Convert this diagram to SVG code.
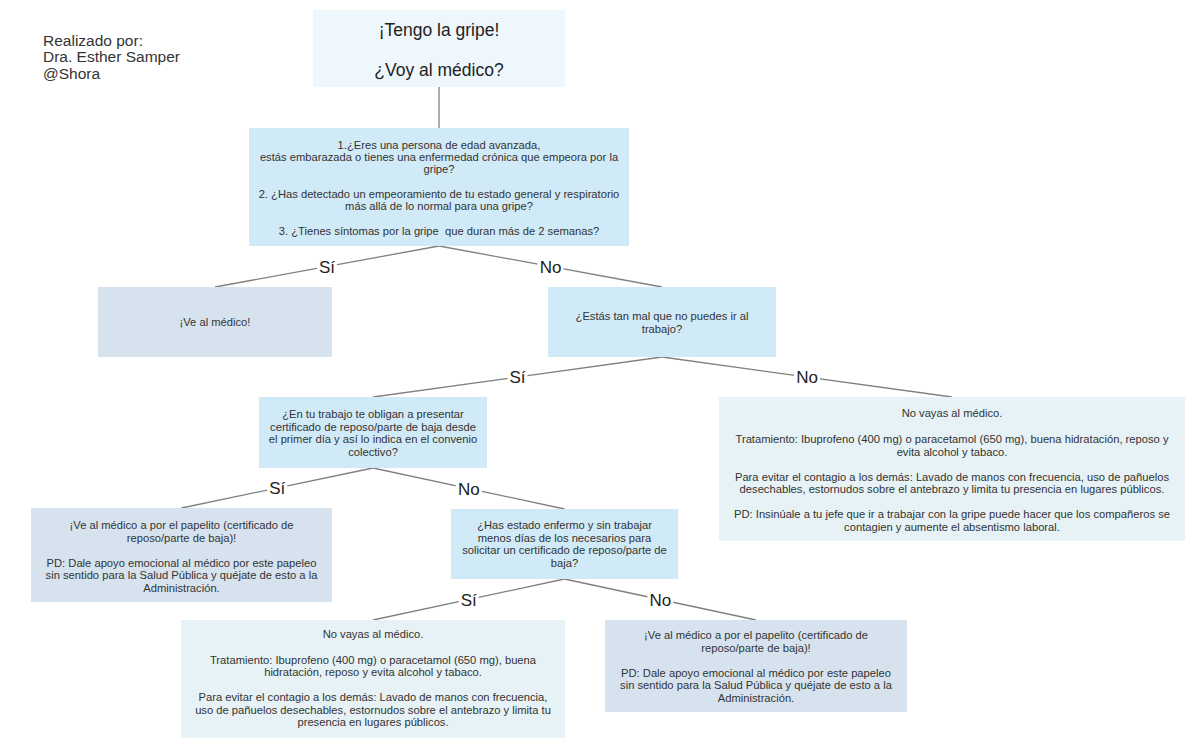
<svg xmlns="http://www.w3.org/2000/svg" width="1200" height="756" viewBox="0 0 1200 756">
<style>
  text { font-family: "Liberation Sans", Arial, sans-serif; fill: #333333; }
  .t { font-size: 11.2px; text-anchor: middle; }
  .title { font-size: 17.5px; text-anchor: middle; fill: #222222; }
  .author { font-size: 15.5px; fill: #333333; }
  .lbl { font-size: 17px; text-anchor: middle; fill: #222222; }
  .c { stroke: #808080; stroke-width: 1.3; fill: none; }
  .gap { fill: #ffffff; }
  .pale { fill: #eef7fb; }
  .q { fill: #d1eaf7; }
  .go { fill: #d6e3ef; }
  .stay { fill: #e6f2f5; }
</style>
<rect width="1200" height="756" fill="#ffffff"/>

<g id="author">
  <text class="author" x="43" y="45.5">Realizado por:</text>
  <text class="author" x="43" y="62.3">Dra. Esther Samper</text>
  <text class="author" x="43" y="79">@Shora</text>
</g>

<g id="connectors">
  <line class="c" x1="439" y1="87" x2="439" y2="128"/>
  <line class="c" x1="439" y1="246" x2="215" y2="287"/>
  <line class="c" x1="439" y1="246" x2="662" y2="287"/>
  <line class="c" x1="662" y1="357" x2="373" y2="397"/>
  <line class="c" x1="662" y1="357" x2="952" y2="397"/>
  <line class="c" x1="373" y1="468" x2="181.5" y2="508"/>
  <line class="c" x1="373" y1="468" x2="564.5" y2="509"/>
  <line class="c" x1="564.5" y1="579" x2="373" y2="620"/>
  <line class="c" x1="564.5" y1="579" x2="756" y2="620"/>
  <rect class="gap" x="317" y="258.5" width="20" height="16"/>
  <text class="lbl" x="327" y="272.5">Sí</text>
  <rect class="gap" x="537.5" y="258.5" width="26" height="16"/>
  <text class="lbl" x="550.5" y="272.5">No</text>
  <rect class="gap" x="507.5" y="369" width="20" height="16"/>
  <text class="lbl" x="517.5" y="383">Sí</text>
  <rect class="gap" x="794" y="369" width="26" height="16"/>
  <text class="lbl" x="807" y="383">No</text>
  <rect class="gap" x="267.25" y="480" width="20" height="16"/>
  <text class="lbl" x="277.25" y="494">Sí</text>
  <rect class="gap" x="455.75" y="480.5" width="26" height="16"/>
  <text class="lbl" x="468.75" y="494.5">No</text>
  <rect class="gap" x="458.75" y="591.5" width="20" height="16"/>
  <text class="lbl" x="468.75" y="605.5">Sí</text>
  <rect class="gap" x="647.25" y="591.5" width="26" height="16"/>
  <text class="lbl" x="660.25" y="605.5">No</text>
</g>

<g id="node-title">
  <rect class="pale" x="313" y="10" width="252" height="77"/>
  <text class="title" x="439" y="36">¡Tengo la gripe!</text>
  <text class="title" x="439" y="76">¿Voy al médico?</text>
</g>

<g id="node-q1">
  <rect class="q" x="249" y="128" width="380" height="118"/>
  <text class="t" x="439" y="148.5">1.¿Eres una persona de edad avanzada,</text>
  <text class="t" x="439" y="160.9">estás embarazada o tienes una enfermedad crónica que empeora por la</text>
  <text class="t" x="439" y="173.2">gripe?</text>
  <text class="t" x="439" y="197.9">2. ¿Has detectado un empeoramiento de tu estado general y respiratorio</text>
  <text class="t" x="439" y="210.3">más allá de lo normal para una gripe?</text>
  <text class="t" x="439" y="235">3. ¿Tienes síntomas por la gripe&#160; que duran más de 2 semanas?</text>
</g>

<g id="node-ve-medico">
  <rect class="go" x="98" y="287" width="234" height="70"/>
  <text class="t" x="215" y="326">¡Ve al médico!</text>
</g>

<g id="node-estas-mal">
  <rect class="q" x="548" y="287" width="228" height="70"/>
  <text class="t" x="662" y="320">¿Estás tan mal que no puedes ir al</text>
  <text class="t" x="662" y="332.5">trabajo?</text>
</g>

<g id="node-en-tu-trabajo">
  <rect class="q" x="259" y="397" width="228" height="71"/>
  <text class="t" x="373" y="418">¿En tu trabajo te obligan a presentar</text>
  <text class="t" x="373" y="430.7">certificado de reposo/parte de baja desde</text>
  <text class="t" x="373" y="443.3">el primer día y así lo indica en el convenio</text>
  <text class="t" x="373" y="456">colectivo?</text>
</g>

<g id="node-no-vayas-1">
  <rect class="stay" x="719" y="397" width="466" height="144"/>
  <text class="t" x="952" y="417">No vayas al médico.</text>
  <text class="t" x="952" y="443">Tratamiento: Ibuprofeno (400 mg) o paracetamol (650 mg), buena hidratación, reposo y</text>
  <text class="t" x="952" y="455.5">evita alcohol y tabaco.</text>
  <text class="t" x="952" y="480.5">Para evitar el contagio a los demás: Lavado de manos con frecuencia, uso de pañuelos</text>
  <text class="t" x="952" y="493">desechables, estornudos sobre el antebrazo y limita tu presencia en lugares públicos.</text>
  <text class="t" x="952" y="518">PD: Insinúale a tu jefe que ir a trabajar con la gripe puede hacer que los compañeros se</text>
  <text class="t" x="952" y="530.5">contagien y aumente el absentismo laboral.</text>
</g>

<g id="node-papelito-1">
  <rect class="go" x="31" y="508" width="301" height="94"/>
  <text class="t" x="181.5" y="529">¡Ve al médico a por el papelito (certificado de</text>
  <text class="t" x="181.5" y="541.5">reposo/parte de baja)!</text>
  <text class="t" x="181.5" y="566.5">PD: Dale apoyo emocional al médico por este papeleo</text>
  <text class="t" x="181.5" y="579">sin sentido para la Salud Pública y quéjate de esto a la</text>
  <text class="t" x="181.5" y="591.5">Administración.</text>
</g>

<g id="node-has-estado">
  <rect class="q" x="451" y="509" width="227" height="70"/>
  <text class="t" x="564.5" y="529">¿Has estado enfermo y sin trabajar</text>
  <text class="t" x="564.5" y="541.7">menos días de los necesarios para</text>
  <text class="t" x="564.5" y="554.3">solicitar un certificado de reposo/parte de</text>
  <text class="t" x="564.5" y="567">baja?</text>
</g>

<g id="node-no-vayas-2">
  <rect class="stay" x="181" y="620" width="384" height="118"/>
  <text class="t" x="373" y="638">No vayas al médico.</text>
  <text class="t" x="373" y="663.5">Tratamiento: Ibuprofeno (400 mg) o paracetamol (650 mg), buena</text>
  <text class="t" x="373" y="676">hidratación, reposo y evita alcohol y tabaco.</text>
  <text class="t" x="373" y="701">Para evitar el contagio a los demás: Lavado de manos con frecuencia,</text>
  <text class="t" x="373" y="713.5">uso de pañuelos desechables, estornudos sobre el antebrazo y limita tu</text>
  <text class="t" x="373" y="726">presencia en lugares públicos.</text>
</g>

<g id="node-papelito-2">
  <rect class="go" x="605" y="620" width="302" height="92"/>
  <text class="t" x="756" y="639">¡Ve al médico a por el papelito (certificado de</text>
  <text class="t" x="756" y="651.5">reposo/parte de baja)!</text>
  <text class="t" x="756" y="676.5">PD: Dale apoyo emocional al médico por este papeleo</text>
  <text class="t" x="756" y="689">sin sentido para la Salud Pública y quéjate de esto a la</text>
  <text class="t" x="756" y="701.5">Administración.</text>
</g>
</svg>
